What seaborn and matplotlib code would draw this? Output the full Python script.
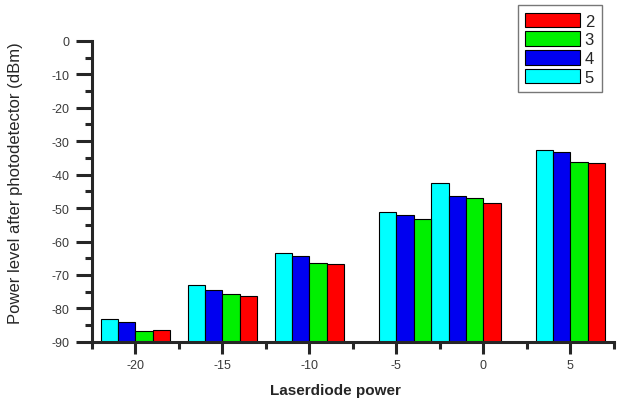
import numpy as np
import pandas as pd
import matplotlib
matplotlib.use("Agg")
import matplotlib.pyplot as plt
from matplotlib.ticker import MultipleLocator
from matplotlib.patches import Patch
import seaborn as sns

# laser diode power (dBm) for each bar group
laser_power = [-20, -15, -10, -4, -1, 5]
# power after photodetector (dBm) per series; red bar of the -4 group is hidden
power_5 = [-83.1, -73.0, -63.4, -51.2, -42.5, -32.6]
power_4 = [-84.1, -74.4, -64.4, -52.0, -46.3, -33.1]
power_3 = [-86.6, -75.6, -66.5, -53.4, -47.1, -36.1]
power_2 = [-86.4, -76.4, -66.7, np.nan, -48.4, -36.4]
series_names = ["5", "4", "3", "2"]
series_colors = {"5": "#00FFFF", "4": "#0000F0", "3": "#00F000", "2": "#FF0000"}
FLOOR = -90

rows = []
for name, vals in zip(series_names, [power_5, power_4, power_3, power_2]):
    for x, v in zip(laser_power, vals):
        if not np.isnan(v):
            rows.append([x, name, v])
df = pd.DataFrame(rows, columns=["Laser", "Series", "Power"])
df["Height"] = df["Power"] - FLOOR

sns.set_style("ticks")
plt.rcParams["font.family"] = ["Liberation Sans", "DejaVu Sans"]
plt.rcParams["axes.unicode_minus"] = False

fig = plt.figure(figsize=(6.17, 4.02), dpi=100)
ax = fig.add_axes([0.149, 0.147, 0.846, 0.749])

sns.barplot(data=df, x="Laser", y="Height", hue="Series", hue_order=series_names,
            palette=series_colors, native_scale=True, width=4/3, gap=0,
            errorbar=None, edgecolor="black", linewidth=0.8, bottom=FLOOR,
            saturation=1, legend=False, ax=ax)

ax.set_xlim(-22.5, 7.5)
ax.set_ylim(-90, 0)
ax.xaxis.set_major_locator(MultipleLocator(5))
ax.xaxis.set_minor_locator(MultipleLocator(2.5))
ax.yaxis.set_major_locator(MultipleLocator(10))
ax.yaxis.set_minor_locator(MultipleLocator(5))
ax.tick_params(which="major", width=2.2, labelsize=9, labelcolor="#3a3a3a")
ax.tick_params(axis="x", which="major", length=8.5, pad=4)
ax.tick_params(axis="y", which="major", length=11.5, pad=5)
ax.tick_params(which="minor", length=5, width=2.2)
for s in ["top", "right"]:
    ax.spines[s].set_visible(False)
for s in ["left", "bottom"]:
    ax.spines[s].set_linewidth(2.2)

ax.set_xlabel("Laserdiode power", fontsize=11, fontweight="bold")
ax.xaxis.set_label_coords(0.467, -0.135)
ax.set_ylabel("Power level after photodetector (dBm)", fontsize=12)
ax.yaxis.set_label_coords(-0.132, 0.53)

handles = [Patch(facecolor=series_colors[n], edgecolor="black", linewidth=0.8, label=n)
           for n in series_names[::-1]]
leg = ax.legend(handles=handles, loc="upper left", bbox_to_anchor=(0.8395, 0.985),
                bbox_transform=fig.transFigure, borderaxespad=0, frameon=True,
                fancybox=False, edgecolor="#555555", fontsize=12, handlelength=3.3,
                handleheight=1.0, labelspacing=0.15, handletextpad=0.25, borderpad=0.45)
leg.get_frame().set_linewidth(1.0)

fig.savefig("out.png", dpi=100)
